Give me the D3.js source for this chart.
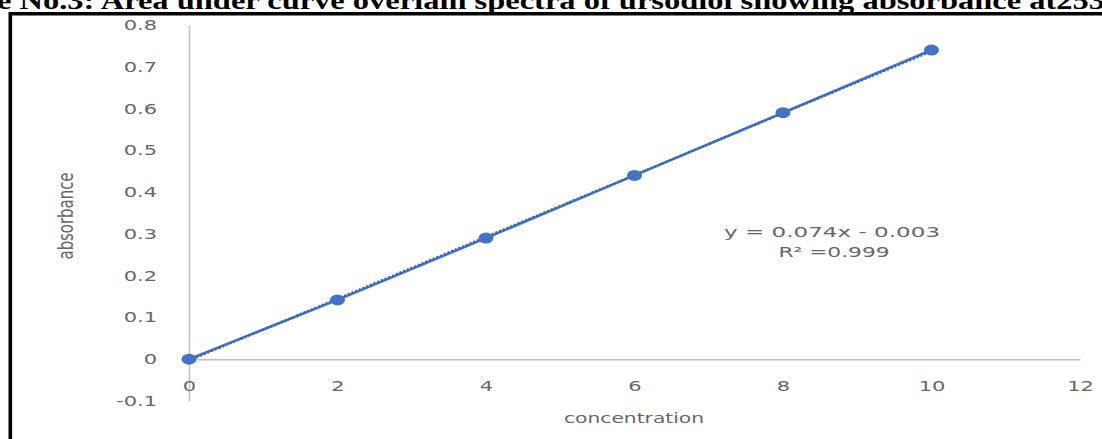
<!DOCTYPE html>
<html>
<head>
<meta charset="utf-8">
<script src="https://cdn.jsdelivr.net/npm/d3@7"></script>
<style>
  html, body { margin: 0; padding: 0; background: #fff; }
  svg { display: block; }
</style>
</head>
<body>
<svg id="chart" width="1102" height="439"></svg>
<script>
// Calibration data: concentration vs absorbance
const concentration = [0, 2, 4, 6, 8, 10];
const absorbance = [0, 0.142, 0.29, 0.44, 0.59, 0.74];
const xTicks = [0, 2, 4, 6, 8, 10, 12];
const yTicks = [-0.1, 0, 0.1, 0.2, 0.3, 0.4, 0.5, 0.6, 0.7, 0.8];
const slope = 0.074;
const intercept = -0.003;
const equationText = "y = 0.074x - 0.003";
const r2Text = "R\u00b2 =0.999";
const titleText = "e No.3: Area under curve overlain spectra of ursodiol showing absorbance at253";

const W = 1102, H = 439;
const SX = 1.5; // horizontal stretch applied to chart text
const blue = "#4472C4";
const grey = "#666666";
const axisGrey = "#bfbfbf";
const sans = "'DejaVu Sans', sans-serif";

const svg = d3.select("#chart");

const x = d3.scaleLinear().domain([0, 12]).range([189, 1080]);
const y = d3.scaleLinear().domain([-0.1, 0.8]).range([401, 25]);

// Caption line above the frame
svg.append("text")
  .attr("x", -3).attr("y", 9)
  .attr("textLength", 1108)
  .attr("lengthAdjust", "spacingAndGlyphs")
  .attr("font-family", "'Liberation Serif', 'Times New Roman', serif")
  .attr("font-weight", "bold")
  .attr("font-size", 25)
  .attr("fill", "#000")
  .text(titleText);

// Frame
svg.append("path")
  .attr("d", `M10.3,${H} V13.8 H${W}`)
  .attr("fill", "none")
  .attr("stroke", "#000")
  .attr("stroke-width", 3.6);

// Y axis (vertical line through x = 0)
const yAxis = svg.append("g")
  .attr("transform", `translate(${x(0)},0)`)
  .call(d3.axisLeft(y).tickValues(yTicks).tickSize(0).tickPadding(32 / SX)
    .tickFormat(d => String(+d.toFixed(1))));
yAxis.select(".domain").attr("stroke", axisGrey).attr("stroke-width", 1.5);
yAxis.selectAll("text")
  .attr("fill", grey).attr("font-family", sans).attr("font-size", 14)
  .attr("transform", `scale(${SX},1)`);

// X axis (horizontal line through y = 0)
const xAxis = svg.append("g")
  .attr("transform", `translate(0,${y(0)})`)
  .call(d3.axisBottom(x).tickValues(xTicks).tickSize(0).tickPadding(0)
    .tickFormat(d => String(d)));
xAxis.select(".domain").attr("stroke", axisGrey).attr("stroke-width", 1.5);
xAxis.selectAll("text")
  .attr("y", 32).attr("dy", null)
  .attr("fill", grey).attr("font-family", sans).attr("font-size", 14)
  .attr("transform", `scale(${SX},1)`);

// Axis titles
svg.append("text")
  .attr("transform", `translate(634,423) scale(${SX},1)`)
  .attr("text-anchor", "middle")
  .attr("fill", grey).attr("font-family", sans).attr("font-size", 13.5)
  .text("concentration");

svg.append("text")
  .attr("transform", `translate(73,216) rotate(-90) scale(1,${SX})`)
  .attr("text-anchor", "middle")
  .attr("fill", grey).attr("font-family", sans).attr("font-size", 14)
  .attr("textLength", 87).attr("lengthAdjust", "spacingAndGlyphs")
  .text("absorbance");

const pts = concentration.map((c, i) => [c, absorbance[i]]);

// Data line
svg.append("path")
  .datum(pts)
  .attr("fill", "none")
  .attr("stroke", blue)
  .attr("stroke-width", 2.6)
  .attr("d", d3.line().x(d => x(d[0])).y(d => y(d[1])));

// Linear trendline
const tx = d3.extent(concentration);
svg.append("path")
  .datum(tx.map(v => [v, slope * v + intercept]))
  .attr("fill", "none")
  .attr("stroke", "#3a64b4")
  .attr("stroke-width", 2.2)
  .attr("stroke-dasharray", "2,2")
  .attr("d", d3.line().x(d => x(d[0])).y(d => y(d[1])));

// Markers
svg.append("g").selectAll("ellipse")
  .data(pts)
  .join("ellipse")
  .attr("cx", d => x(d[0]))
  .attr("cy", d => y(d[1]))
  .attr("rx", 7.5).attr("ry", 5.5)
  .attr("fill", blue);

// Regression label
svg.append("text")
  .attr("transform", `translate(832,237) scale(${SX * 1.06},1)`)
  .attr("text-anchor", "middle")
  .attr("fill", grey).attr("font-family", sans).attr("font-size", 14.5)
  .text(equationText);
svg.append("text")
  .attr("transform", `translate(834,257) scale(${SX},1)`)
  .attr("text-anchor", "middle")
  .attr("fill", grey).attr("font-family", sans).attr("font-size", 14.5)
  .text(r2Text);
</script>
</body>
</html>
